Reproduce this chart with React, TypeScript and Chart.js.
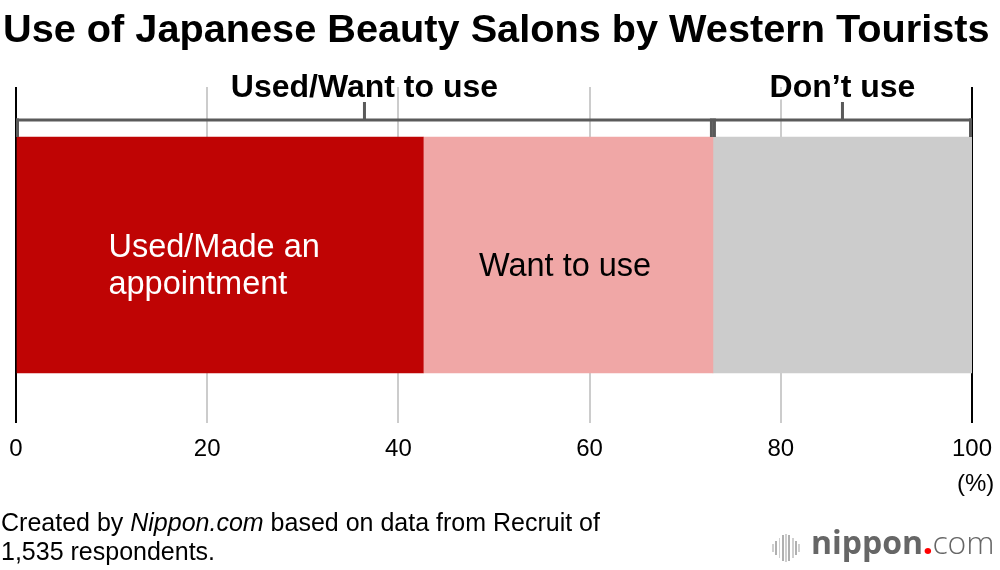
import { useEffect, useRef } from 'react'
import { Chart, registerables } from 'chart.js'

Chart.register(...registerables)

const FONT = '"Liberation Sans", Arial, Helvetica, sans-serif'

// ── data ────────────────────────────────────────────────────────────────────
const categories = ['Western tourists']
const segmentLabels = ['Used/Made an appointment', 'Want to use', 'Don\u2019t use']
const segmentValues = [42.6, 30.3, 27.1]
const segmentColors = ['#bf0404', '#f0a7a6', '#cccccc']
const segmentText = [['Used/Made an', 'appointment'], ['Want to use'], []]
const segmentTextColors = ['#ffffff', '#000000', '#000000']
const groupLabels = ['Used/Want to use', 'Don\u2019t use']
const groupMembers = [[0, 1], [2]]
const xTicks = [0, 20, 40, 60, 80, 100]

export default function App() {
  const canvasRef = useRef<HTMLCanvasElement>(null)
  const chartRef = useRef<Chart | null>(null)

  useEffect(() => {
    if (!canvasRef.current) return
    const ctx = canvasRef.current.getContext('2d')
    if (!ctx) return

    // brackets above the bar + labels inside segments
    const annotatePlugin = {
      id: 'annotate',
      afterDatasetsDraw(chart: any) {
        const { ctx: c, scales: { x } } = chart
        const bar0 = chart.getDatasetMeta(0).data[0]
        const barTop = bar0.y - bar0.height / 2
        const lineY = barTop - 17
        c.save()

        segmentValues.forEach((_, i) => {
          const el = chart.getDatasetMeta(i).data[0]
          const lines = segmentText[i]
          if (!lines.length) return
          c.font = `32.5px ${FONT}`
          const w = Math.max(...lines.map(l => c.measureText(l).width))
          const cx = (el.base + el.x) / 2
          const lh = 37
          const y0 = el.y + 12 - (lines.length - 1) * lh / 2
          // multi-line labels sit a bit left of centre, as in the original
          const shift = lines.length > 1 ? -6 : -3
          c.fillStyle = segmentTextColors[i]
          c.textAlign = 'left'
          c.textBaseline = 'middle'
          lines.forEach((l, j) => c.fillText(l, cx - w / 2 + shift, y0 + j * lh))
        })

        let start = 0
        groupMembers.forEach((members, g) => {
          const total = members.reduce((s, i) => s + segmentValues[i], 0)
          const x0 = x.getPixelForValue(start)
          const x1 = x.getPixelForValue(start + total)
          start += total
          const mid = (x0 + x1) / 2
          c.fillStyle = '#5a5a5a'
          c.fillRect(x0, lineY - 1.5, x1 - x0, 3)
          c.fillRect(x0, lineY - 1.5, 3, barTop - lineY + 1.5)
          c.fillRect(x1 - 3, lineY - 1.5, 3, barTop - lineY + 1.5)
          c.fillRect(mid - 1.5, lineY - 18, 3, 18)

          c.font = `bold 32px ${FONT}`
          c.textAlign = 'center'
          c.textBaseline = 'middle'
          c.lineWidth = 5
          c.strokeStyle = '#ffffff'
          c.strokeText(groupLabels[g], mid, lineY - 32)
          c.fillStyle = '#000000'
          c.fillText(groupLabels[g], mid, lineY - 32)
        })

        c.restore()
      },
    }

    chartRef.current = new Chart(ctx, {
      type: 'bar',
      plugins: [annotatePlugin],
      data: {
        labels: categories,
        datasets: segmentLabels.map((label, i) => ({
          label,
          data: [segmentValues[i]],
          backgroundColor: segmentColors[i],
          borderWidth: 0,
          barThickness: 236,
        })),
      },
      options: {
        indexAxis: 'y',
        responsive: true,
        maintainAspectRatio: false,
        animation: false,
        layout: { padding: { left: 16, right: 28, top: 87, bottom: 107 } },
        plugins: {
          legend: { display: false },
          tooltip: { enabled: false },
        },
        scales: {
          x: {
            stacked: true,
            min: 0,
            max: 100,
            afterBuildTicks: (s: any) => { s.ticks = xTicks.map(v => ({ value: v })) },
            afterFit: (s: any) => { s.height = 40 },
            ticks: {
              color: '#000000',
              padding: 0,
              maxRotation: 0,
              font: { size: 24, family: FONT },
            },
            grid: {
              drawTicks: true,
              tickLength: 12,
              tickColor: 'rgba(0,0,0,0)',
              lineWidth: 2,
              color: (c: any) => (c.tick && (c.tick.value === 0 || c.tick.value === 100)) ? '#000000' : '#cccccc',
            },
            border: { display: false },
          },
          y: { stacked: true, display: false },
        },
      },
    } as any)

    return () => { chartRef.current?.destroy(); chartRef.current = null }
  }, [])

  const bars = [8, 14, 20, 26, 28, 26, 20, 14, 8]

  return (
    <div style={{ position: 'absolute', left: 0, top: 0, width: 1000, height: 570, background: '#fff', fontFamily: FONT, color: '#000' }}>
      <canvas ref={canvasRef} style={{ position: 'absolute', left: 0, top: 0 }} width={1000} height={570} />
      <div style={{ position: 'absolute', inset: 0 }}>
        <div style={{ position: 'absolute', left: 3, top: 8, fontSize: 39.7, lineHeight: '40px', fontWeight: 'bold', whiteSpace: 'nowrap' }}>
          Use of Japanese Beauty Salons by Western Tourists
        </div>
        <div style={{ position: 'absolute', left: 957, top: 471, fontSize: 24, lineHeight: '24px' }}>(%)</div>
        <div style={{ position: 'absolute', left: 1, top: 508, fontSize: 25, lineHeight: '29px', whiteSpace: 'nowrap' }}>
          Created by <i>Nippon.com</i> based on data from Recruit of<br />1,535 respondents.
        </div>
        <div style={{ position: 'absolute', left: 772, top: 533, height: 30, display: 'flex', alignItems: 'center', gap: 1.5 }}>
          {bars.map((h, i) => (
            <span key={i} style={{ display: 'block', width: 1.8, height: h, background: i % 2 ? '#b0b0b0' : '#cfcfcf' }} />
          ))}
        </div>
        <div style={{ position: 'absolute', left: 811, top: 522, fontFamily: '"Open Sans", sans-serif', fontSize: 32, lineHeight: '40px', color: '#666', whiteSpace: 'nowrap' }}>
          <span style={{ fontWeight: 700 }}>nippon</span>
          <span style={{ color: '#ff0000', fontWeight: 800 }}>.</span>
          <span style={{ fontWeight: 300 }}>com</span>
        </div>
      </div>
    </div>
  )
}
